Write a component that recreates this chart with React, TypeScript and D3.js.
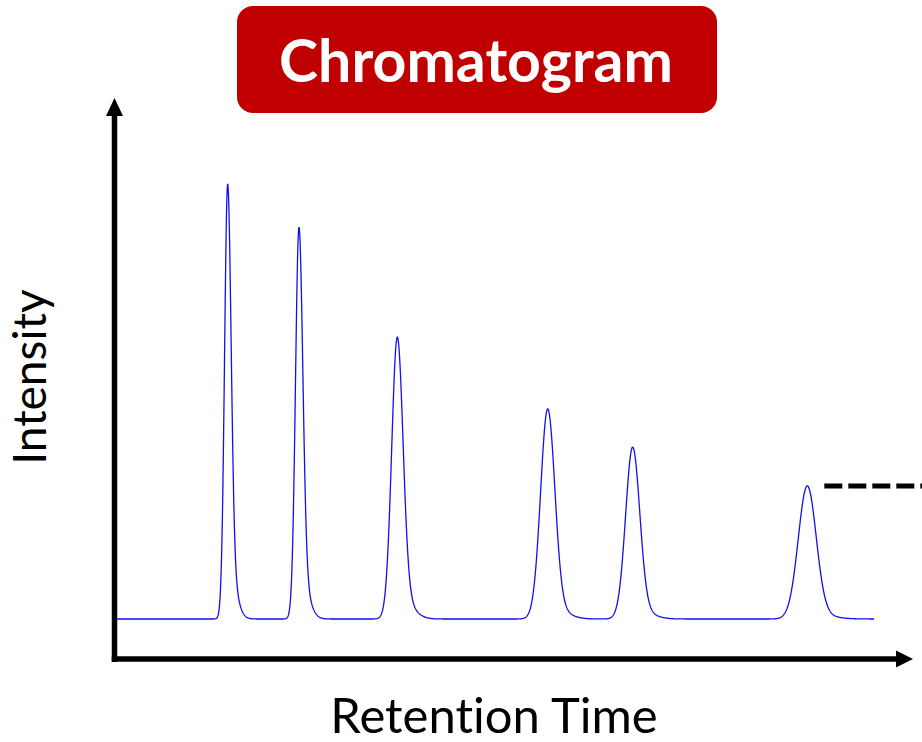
import * as d3 from "d3";

// retention time (min), relative intensity, peak widths (min) on each side
const peakTimes = [1.462, 2.404, 3.703, 5.69, 6.812, 9.119];
const peakHeights = [100, 90.1, 64.8, 48.3, 39.5, 30.6];
const sigmaLeft = [0.041, 0.046, 0.074, 0.094, 0.093, 0.119];
const sigmaRight = [0.045, 0.05, 0.075, 0.093, 0.093, 0.117];
const tailShare = [0.14, 0.13, 0.1, 0.07, 0.07, 0.05];

const title = "Chromatogram";
const xLabel = "Retention Time";
const yLabel = "Intensity";

const width = 922;
const height = 742;

function signal(t: number) {
  let v = 0;
  peakTimes.forEach((c, i) => {
    const d = t - c;
    const h = peakHeights[i];
    if (d < 0) {
      v += h * Math.exp(-(d * d) / (2 * sigmaLeft[i] * sigmaLeft[i]));
    } else {
      const s = sigmaRight[i];
      const a = tailShare[i];
      const ks = s * 2.1;
      v +=
        h *
        ((1 - a) * Math.exp(-(d * d) / (2 * s * s)) +
          a * Math.exp(-(d * d) / (2 * ks * ks)));
    }
  });
  return v;
}

export default function App() {
  const x = d3.scaleLinear().domain([0, 10]).range([117, 874]);
  const y = d3.scaleLinear().domain([0, 100]).range([619, 184]);

  const samples = d3.range(0, 10.0001, 0.004).map((t) => [t, signal(t)]);
  const line = d3
    .line<number[]>()
    .x((d) => x(d[0]))
    .y((d) => y(d[1]));

  const axisX = 114.5;
  const axisY = 659;
  const last = peakTimes.length - 1;
  const dashY = y(peakHeights[last]);

  return (
    <svg
      width={width}
      height={height}
      style={{ position: "absolute", left: 0, top: 0 }}
    >
      <rect x={237} y={6} width={480} height={107} rx={16} fill="#C00000" />
      <text
        x={476}
        y={82}
        textAnchor="middle"
        fill="#fff"
        fontFamily="Lato"
        fontWeight="bold"
        fontSize={59}
      >
        {title}
      </text>

      {/* y axis */}
      <line
        x1={axisX}
        y1={axisY + 3}
        x2={axisX}
        y2={114}
        stroke="#000"
        strokeWidth={5.5}
      />
      <path
        d={`M${axisX},98 L${axisX + 8.5},116 L${axisX - 8.5},116 Z`}
        fill="#000"
      />
      {/* x axis */}
      <line
        x1={axisX - 2.75}
        y1={axisY}
        x2={898}
        y2={axisY}
        stroke="#000"
        strokeWidth={5.5}
      />
      <path
        d={`M913,${axisY} L896,${axisY - 8.5} L896,${axisY + 8.5} Z`}
        fill="#000"
      />

      <path d={line(samples) ?? ""} fill="none" stroke="#1010F0" strokeWidth={1.3} />

      <line
        x1={x(peakTimes[last]) + 17}
        y1={dashY}
        x2={width}
        y2={dashY}
        stroke="#000"
        strokeWidth={5}
        strokeDasharray="18 6"
      />

      <text
        x={494}
        y={733}
        textAnchor="middle"
        fontFamily="Lato"
        fontSize={49}
        fill="#000"
        style={{ fontVariantLigatures: "none" }}
      >
        {xLabel}
      </text>
      <text
        transform={`translate(46,377) rotate(-90)`}
        textAnchor="middle"
        fontFamily="Lato"
        fontSize={46}
        fill="#000"
      >
        {yLabel}
      </text>
    </svg>
  );
}
